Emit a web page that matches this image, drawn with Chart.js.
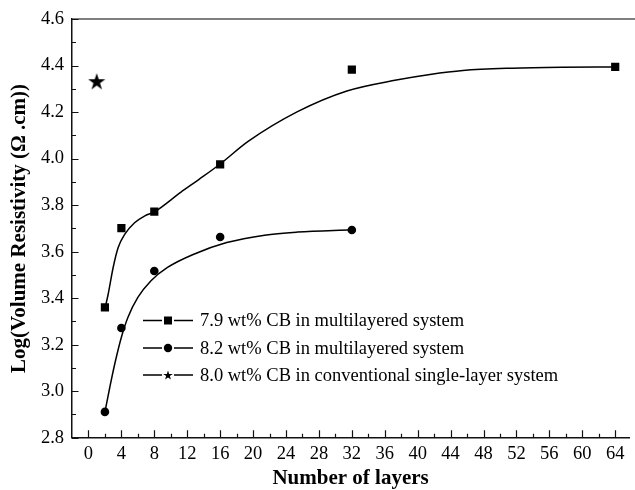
<!DOCTYPE html>
<html>
<head>
<meta charset="utf-8">
<script src="https://cdn.jsdelivr.net/npm/chart.js@4/dist/chart.umd.min.js"></script>
<style>
  html, body { margin: 0; padding: 0; background: #fff; }
  canvas { display: block; }
</style>
</head>
<body>
<canvas id="c" width="635" height="490"></canvas>
<script>
// ---- data ----
const layersA = [2, 4, 8, 16, 32, 64];
const resistA = [3.360, 3.701, 3.772, 3.975, 4.383, 4.395];   // 7.9 wt% (squares)
const layersB = [2, 4, 8, 16, 32];
const resistB = [2.911, 3.272, 3.517, 3.663, 3.693];          // 8.2 wt% (circles)
const layersC = [1];
const resistC = [4.333];                                       // 8.0 wt% single layer (star)

// fitted curves, points
const fitAX = [2.1, 2.4, 3.0, 3.6, 4.4, 5.6, 6.8, 8.0, 11.2, 13.4, 16.0, 19.4, 25.4, 31.4, 37.4, 41.5, 45.5, 51.5, 57.5, 64];
const fitAY = [3.37, 3.418, 3.532, 3.617, 3.674, 3.724, 3.753, 3.771, 3.855, 3.91, 3.977, 4.074, 4.202, 4.291, 4.338, 4.362, 4.379, 4.389, 4.393, 4.394];
const fitBX = [2.0, 2.6, 3.2, 4.0, 4.8, 6.0, 7.6, 9.6, 12.8, 16.8, 21.4, 25.4, 32];
const fitBY = [2.911, 3.018, 3.118, 3.232, 3.318, 3.403, 3.475, 3.532, 3.589, 3.639, 3.671, 3.684, 3.694];

// axis ticks (major labelled, minor in between)
const xTickValues = [0, 2, 4, 6, 8, 10, 12, 14, 16, 18, 20, 22, 24, 26, 28, 30, 32, 34, 36, 38, 40, 42, 44, 46, 48, 50, 52, 54, 56, 58, 60, 62, 64];
const xTickLabels = ['0', '4', '8', '12', '16', '20', '24', '28', '32', '36', '40', '44', '48', '52', '56', '60', '64'];

const legendLabels = [
  '7.9 wt% CB in multilayered system',
  '8.2 wt% CB in multilayered system',
  '8.0 wt% CB in conventional single-layer system'
];
const xTitle = 'Number of layers';
const yTitle = 'Log(Volume Resistivity (\u03A9 .cm))';

const pts = (xs, ys) => xs.map((x, i) => ({x: x, y: ys[i]}));

function starImage(R) {
  const s = Math.ceil(R * 2 + 2);
  const c = document.createElement('canvas');
  c.width = s; c.height = s;
  const g = c.getContext('2d');
  drawStar(g, s / 2, s / 2 + R * 0.1, R);
  return c;
}
function drawStar(g, cx, cy, R) {
  const r = R * 0.382;
  g.beginPath();
  for (let i = 0; i < 10; i++) {
    const a = -Math.PI / 2 + i * Math.PI / 5;
    const rr = i % 2 === 0 ? R : r;
    const px = cx + rr * Math.cos(a), py = cy + rr * Math.sin(a);
    if (i === 0) g.moveTo(px, py); else g.lineTo(px, py);
  }
  g.closePath();
  g.fillStyle = '#000';
  g.fill();
}

const FONT = "'Liberation Serif', 'DejaVu Serif', serif";

const decoPlugin = {
  id: 'deco',
  afterDatasetsDraw(chart) {
    const {ctx, chartArea: a, scales: {x, y}} = chart;
    ctx.save();
    // top frame line
    ctx.strokeStyle = '#555';
    ctx.lineWidth = 1.5;
    ctx.beginPath();
    ctx.moveTo(a.left, a.top);
    ctx.lineTo(chart.width, a.top);
    ctx.stroke();
    // inward ticks
    ctx.strokeStyle = '#111';
    ctx.lineWidth = 1.2;
    ctx.beginPath();
    x.ticks.forEach(t => {
      const px = Math.round(x.getPixelForValue(t.value)) + 0.5;
      const major = Math.round(t.value) % 4 === 0;
      const len = major ? 7.5 : 4;
      ctx.moveTo(px, a.bottom);
      ctx.lineTo(px, a.bottom - len);
    });
    y.ticks.forEach(t => {
      const py = Math.round(y.getPixelForValue(t.value)) + 0.5;
      const major = Math.round(t.value * 10) % 2 === 0;
      const len = major ? 6.5 : 4;
      ctx.moveTo(a.left, py);
      ctx.lineTo(a.left + len, py);
    });
    ctx.stroke();

    // legend
    const lx0 = 143, lx1 = 193, mx = 168, tx = 200;
    const rows = [320.5, 348, 375];
    ctx.font = "18.5px " + FONT;
    ctx.textBaseline = 'middle';
    ctx.fillStyle = '#000';
    ctx.strokeStyle = '#000';
    ctx.lineWidth = 1.3;
    rows.forEach((ry, i) => {
      ctx.beginPath();
      ctx.moveTo(lx0, ry); ctx.lineTo(mx - 6, ry);
      ctx.moveTo(mx + 6, ry); ctx.lineTo(lx1, ry);
      ctx.stroke();
      if (i === 0) {
        ctx.fillRect(mx - 4, ry - 4, 8, 8);
      } else if (i === 1) {
        ctx.beginPath(); ctx.arc(mx, ry, 4.2, 0, Math.PI * 2); ctx.fill();
      } else {
        drawStar(ctx, mx, ry + 0.5, 5);
      }
      ctx.fillStyle = '#000';
      ctx.fillText(legendLabels[i], tx, ry + 1);
    });
    ctx.restore();
  }
};

new Chart(document.getElementById('c'), {
  type: 'scatter',
  data: {
    datasets: [
      { label: legendLabels[0], data: pts(layersA, resistA), pointStyle: 'rect', pointRadius: 5.8,
        backgroundColor: '#000', borderColor: '#000', borderWidth: 0, showLine: false },
      { label: legendLabels[1], data: pts(layersB, resistB), pointStyle: 'circle', pointRadius: 4.3,
        backgroundColor: '#000', borderColor: '#000', borderWidth: 0, showLine: false },
      { label: legendLabels[2], data: pts(layersC, resistC), pointStyle: starImage(9),
        backgroundColor: '#000', borderColor: '#000', showLine: false },
      { label: 'fitA', data: pts(fitAX, fitAY), showLine: true, pointRadius: 0,
        borderColor: '#000', borderWidth: 1.5, cubicInterpolationMode: 'monotone', fill: false },
      { label: 'fitB', data: pts(fitBX, fitBY), showLine: true, pointRadius: 0,
        borderColor: '#000', borderWidth: 1.5, cubicInterpolationMode: 'monotone', fill: false }
    ]
  },
  options: {
    responsive: false,
    animation: false,
    devicePixelRatio: 1,
    layout: { padding: { top: 17, right: 0, left: 0, bottom: 0 } },
    plugins: { legend: { display: false }, tooltip: { enabled: false } },
    scales: {
      x: {
        type: 'linear', min: -2, max: 65.7,
        grid: { display: false, drawTicks: false },
        border: { display: true, color: '#111', width: 1.5 },
        afterBuildTicks: s => { s.ticks = xTickValues.map(v => ({value: v})); },
        afterFit: s => { s.height = 52.3; },
        ticks: {
          autoSkip: false, maxRotation: 0, padding: 5, color: '#000',
          font: { family: FONT, size: 18.5 },
          callback: v => (xTickLabels.includes(String(Math.round(v))) && Math.round(v) % 4 === 0 ? String(Math.round(v)) : '')
        },
        title: { display: true, text: xTitle, color: '#000', padding: { top: 0, bottom: 0 },
          font: { family: FONT, size: 21, weight: 'bold', lineHeight: 1.1 } }
      },
      y: {
        type: 'linear', min: 2.8, max: 4.6,
        grid: { display: false, drawTicks: false },
        border: { display: true, color: '#111', width: 1.5 },
        afterFit: s => { s.width = 72; },
        ticks: {
          stepSize: 0.1, autoSkip: false, padding: 8, color: '#000',
          font: { family: FONT, size: 18.5 },
          callback: v => (Math.round(v * 10) % 2 === 0 ? v.toFixed(1) : '')
        },
        title: { display: true, text: yTitle, color: '#000', padding: { top: 7, bottom: 0 },
          font: { family: FONT, size: 21, weight: 'bold' } }
      }
    }
  },
  plugins: [decoPlugin]
});
</script>
</body>
</html>
